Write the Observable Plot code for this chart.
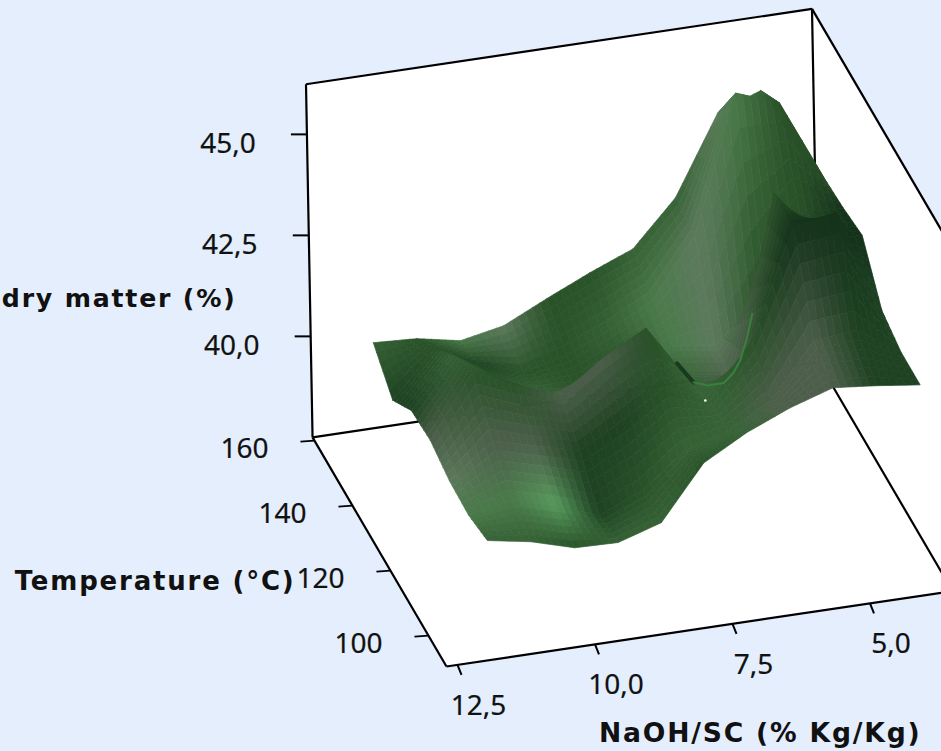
<!DOCTYPE html>
<html><head><meta charset="utf-8">
<style>html,body{margin:0;padding:0;background:#e4eefd;overflow:hidden}svg{display:block}
g[aria-label="text"][font-weight="bold"]{letter-spacing:1.8px}</style>
<script src="https://cdn.jsdelivr.net/npm/d3@7"></script>
<script src="https://cdn.jsdelivr.net/npm/@observablehq/plot@0.6"></script>
</head><body><div id="chart"></div>
<script>
const naohGrid = [11.6,10.81,10.02,9.23,8.44,7.65,6.86,6.07,5.28,4.49,3.7];
const tempGrid = [160,150,140,130,120,110,100];
const dry160 = [39.7,39.64,39.43,39.64,40.15,40.63,41.06,42.17,44.1,44.5,42.6];
const dry150 = [39.08,40.21,39.63,39.29,39.55,40.01,40.59,42.04,45.4,45.0,42.97];
const dry140 = [39.63,40.83,40.1,39.59,39.43,39.81,40.27,40.11,41.06,43.06,43.04];
const dry130 = [39.7,41.23,40.74,40.33,41.09,41.67,40.17,40.01,44.53,43.21,43.17];
const dry120 = [39.5,40.33,40.05,39.76,40.35,41.05,40.52,41.84,44.53,44.69,42.1];
const dry110 = [39.46,39.67,39.38,38.97,39.43,40.26,40.59,41.18,42.5,42.59,41.88];
const dry100 = [39.63,39.44,39.13,39.1,39.43,40.75,41.34,41.79,42.13,42.02,41.88];
const dryMatter = [dry160,dry150,dry140,dry130,dry120,dry110,dry100];
const shades = {a:"#14311a",b:"#1e4222",c:"#2a5229",d:"#366236",e:"#4a7a4a",f:"#589c5d",g:"#4d5f4b",h:"#5d7a5c"};
const shade160 = "dcehccddhdc";
const shade150 = "bcbccdehecc";
const shade140 = "bdcdccehcca";
const shade130 = "gccggcdgcaa";
const shade120 = "hggbbcdcaab";
const shade110 = "eefbcddggbb";
const shade100 = "ddcddcdggbb";
const shadeRows = [shade160,shade150,shade140,shade130,shade120,shade110,shade100];
const foldN = [6.81,6.55,6.26,6.08,5.95,5.81,5.72];
const foldZ = [40.16,40.03,40.03,40.25,40.54,41.13,41.64];
const creaseN = [7.1,6.81];
const creaseZ = [40.69,40.16];
const foldT = 130;
const pinhole = {n:6.6,T:130,z:39.67};
const naohTicks = [12.5,10,7.5,5];
const naohLabels = ["12,5","10,0","7,5","5,0"];
const tempTicks = [160,140,120,100];
const dryTicks = [45,42.5,40];
const dryLabels = ["45,0","42,5","40,0"];
const boxN = [12.7,3.5], boxT = [90.5,161], boxZ = [37.5,46.24];

const px = (n,T,z) => 446 + 55*(12.7-n) - 1.9*(T-90.5) - 0.75*(z-37.5);
const py = (n,T,z) => 666 - 8.2*(12.7-n) - 3.25*(T-90.5) - 40.4*(z-37.5);
const P = (n,T,z) => ({x:px(n,T,z),y:py(n,T,z)});

const SUB = 6, facets = [];
let id = 0;
const col = (i,j) => shades[shadeRows[i][j]];
for (let i=0;i<tempGrid.length-1;i++) for (let j=naohGrid.length-2;j>=0;j--) {
  const node = (a,b) => {
    const mix = (v00,v01,v10,v11) => (v00*(1-b)+v01*b)*(1-a)+(v10*(1-b)+v11*b)*a;
    return {
      n: naohGrid[j]+(naohGrid[j+1]-naohGrid[j])*b,
      T: tempGrid[i]+(tempGrid[i+1]-tempGrid[i])*a,
      z: mix(dryMatter[i][j],dryMatter[i][j+1],dryMatter[i+1][j],dryMatter[i+1][j+1])
    };
  };
  const c00=d3.rgb(col(i,j)),c01=d3.rgb(col(i,j+1)),c10=d3.rgb(col(i+1,j)),c11=d3.rgb(col(i+1,j+1));
  const tint=(a,b)=>{const m=k=>(c00[k]*(1-b)+c01[k]*b)*(1-a)+(c10[k]*(1-b)+c11[k]*b)*a;return d3.rgb(m("r"),m("g"),m("b")).formatHex();};
  for (let u=0;u<SUB;u++) for (let v=SUB-1;v>=0;v--) {
    const a0=u/SUB,a1=(u+1)/SUB,b0=v/SUB,b1=(v+1)/SUB;
    const color=tint((a0+a1)/2,(b0+b1)/2);
    [[a0,b0],[a0,b1],[a1,b1],[a1,b0],[a0,b0]].forEach(([a,b])=>{
      const q=node(a,b);
      facets.push({...P(q.n,q.T,q.z),id,color});
    });
    id++;
  }
}

const [n0,n1]=boxN,[t0,t1]=boxT,[z0,z1]=boxZ;
const walls = [
  [[n0,t1,z0],[n1,t1,z0],[n1,t1,z1],[n0,t1,z1]],
  [[n1,t1,z0],[n1,t0,z0],[n1,t0,z1],[n1,t1,z1]],
  [[n0,t0,z0],[n1,t0,z0],[n1,t1,z0],[n0,t1,z0]]
].flatMap((w,k)=>w.map(c=>({...P(...c),k})));
const edges = [
  [[n0,t1,z1],[n1,t1,z1]],[[n0,t1,z0],[n0,t1,z1]],[[n1,t1,z0],[n1,t1,z1]],
  [[n1,t1,z1],[n1,t0,z1]],[[n0,t1,z0],[n1,t1,z0]],[[n0,t1,z0],[n0,t0,z0]],
  [[n0,t0,z0],[n1,t0,z0]],[[n1,t1,z0],[n1,t0,z0]]
].map(([a,b])=>{const p=P(...a),q=P(...b);return {x1:p.x,y1:p.y,x2:q.x,y2:q.y};});

const zTickRows = dryTicks.map((z,i)=>({...P(n0,t1,z),label:dryLabels[i]}));
const tTickRows = tempTicks.map(T=>({...P(n0,T,z0),label:String(T)}));
const nTickRows = naohTicks.map((n,i)=>({...P(n,t0,z0),label:naohLabels[i]}));
const foldRows = foldN.map((n,i)=>P(n,foldT,foldZ[i]));
const creaseRows = creaseN.map((n,i)=>P(n,foldT,creaseZ[i]));

const tickFont = {fontFamily:"Noto Sans",fontSize:28,fill:"#111",stroke:"#111",strokeWidth:0.2};
const titleFont = {fontFamily:"DejaVu Sans",fontWeight:"bold",fill:"#111"};

const chart = Plot.plot({
  width:941,height:751,margin:0,
  x:{domain:[0,941],range:[0,941],axis:null},
  y:{domain:[0,751],range:[0,751],axis:null},
  style:{background:"#e4eefd",overflow:"hidden"},
  marks:[
    Plot.line(walls,{x:"x",y:"y",z:"k",fill:"white",stroke:"white"}),
    Plot.link(edges,{x1:"x1",y1:"y1",x2:"x2",y2:"y2",stroke:"#000",strokeWidth:2.2}),
    Plot.line(facets,{x:"x",y:"y",z:"id",fill:"color",stroke:"color",strokeWidth:0.7}),
    Plot.line(creaseRows,{x:"x",y:"y",stroke:"#1a3a1f",strokeWidth:4}),
    Plot.line(foldRows,{x:"x",y:"y",stroke:"#3a7f40",strokeWidth:2}),
    Plot.dot([P(pinhole.n,pinhole.T,pinhole.z)],{x:"x",y:"y",r:1.3,fill:"white"}),
    Plot.link(zTickRows,{x1:"x",y1:"y",x2:d=>d.x-16,y2:"y",stroke:"#000",strokeWidth:2}),
    Plot.link(tTickRows,{x1:"x",y1:"y",x2:d=>d.x-14,y2:d=>d.y+1,stroke:"#000",strokeWidth:2}),
    Plot.link(nTickRows,{x1:"x",y1:"y",x2:d=>d.x+4,y2:d=>d.y+10,stroke:"#000",strokeWidth:2}),
    Plot.text(zTickRows,{x:d=>d.x-79,y:d=>d.y+10,text:"label",...tickFont}),
    Plot.text(tTickRows,{x:d=>d.x-70,y:d=>d.y+8,text:"label",...tickFont}),
    Plot.text(nTickRows,{x:d=>d.x+21,y:d=>d.y+41,text:"label",...tickFont}),
    Plot.text(["dry matter (%)"],{x:()=>236,y:()=>298,text:d=>d,textAnchor:"end",fontSize:25.2,...titleFont}),
    Plot.text(["Temperature (°C)"],{x:()=>295,y:()=>581,text:d=>d,textAnchor:"end",fontSize:26,...titleFont}),
    Plot.text(["NaOH/SC (% Kg/Kg)"],{x:()=>921,y:()=>733,text:d=>d,textAnchor:"end",fontSize:26.6,...titleFont})
  ]
});
document.getElementById("chart").append(chart);
</script></body></html>
